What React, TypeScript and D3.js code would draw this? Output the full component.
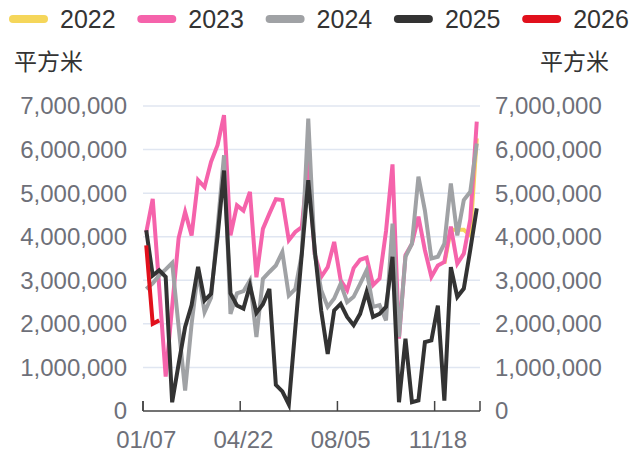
import React from 'react';
import * as d3 from 'd3';

const width = 643;
const height = 454;
const margin = { top: 106, right: 163, bottom: 43, left: 143 };

// weekly categories (2025 calendar)
const weeks = [
  '01/07', '01/14', '01/21', '01/28', '02/04', '02/11', '02/18', '02/25', '03/04', '03/11',
  '03/18', '03/25', '04/01', '04/08', '04/15', '04/22', '04/29', '05/06', '05/13', '05/20',
  '05/27', '06/03', '06/10', '06/17', '06/24', '07/01', '07/08', '07/15', '07/22', '07/29',
  '08/05', '08/12', '08/19', '08/26', '09/02', '09/09', '09/16', '09/23', '09/30', '10/07',
  '10/14', '10/21', '10/28', '11/04', '11/11', '11/18', '11/25', '12/02', '12/09', '12/16',
  '12/23', '12/30'
];
const tickLabels = ['01/07', '04/22', '08/05', '11/18'];
const yTicks = [0, 1000000, 2000000, 3000000, 4000000, 5000000, 6000000, 7000000];

const years = ['2022', '2023', '2024', '2025', '2026'];
const colors = ['#f5d65a', '#f563ab', '#a0a2a5', '#333333', '#e1101c'];

const v2022 = [
  ...Array(46).fill(null),
  3380000, 4160000, 4160000, 4160000, 4030000, 6260000
];
const v2023 = [
  4100000, 4870000, 2840000, 790000, 2400000, 3970000, 4570000, 4030000, 5300000, 5140000,
  5720000, 6100000, 6790000, 4030000, 4720000, 4600000, 5030000, 3070000, 4180000, 4530000,
  4860000, 4840000, 3920000, 4110000, 4220000, 5750000, 3600000, 3080000, 3300000, 3880000,
  3000000, 2770000, 3280000, 3470000, 3520000, 2890000, 3040000, 4130000, 5660000, 1660000,
  3580000, 3840000, 4460000, 3690000, 3080000, 3340000, 3420000, 4230000, 3380000, 3610000,
  4400000, 6640000
];
const v2024 = [
  2800000, 2930000, 3110000, 3250000, 3400000, 1930000, 470000, 2000000, 3200000, 2270000,
  2600000, 4200000, 5870000, 2230000, 2700000, 2750000, 3000000, 1700000, 3030000, 3190000,
  3340000, 3650000, 2650000, 2800000, 3600000, 6710000, 3600000, 2770000, 2390000, 2580000,
  2920000, 2500000, 2620000, 2920000, 3230000, 2390000, 2430000, 2080000, 4300000, 1700000,
  3540000, 3840000, 5380000, 4600000, 3500000, 3540000, 3840000, 5220000, 4030000, 4840000,
  5030000, 6140000
];
const v2025 = [
  4150000, 3110000, 3230000, 3080000, 200000, 1080000, 1930000, 2430000, 3310000, 2540000,
  2690000, 4000000, 5520000, 2700000, 2420000, 2350000, 2880000, 2250000, 2450000, 2800000,
  600000, 450000, 150000, 1900000, 3600000, 5300000, 3700000, 2300000, 1310000, 2310000,
  2460000, 2160000, 1970000, 2230000, 2730000, 2160000, 2230000, 2390000, 3540000, 200000,
  1660000, 200000, 240000, 1580000, 1620000, 2420000, 240000, 3300000, 2620000, 2810000,
  3700000, 4650000
];
const v2026 = [3800000, 2000000, 2080000];

const seriesValues = [v2022, v2023, v2024, v2025, v2026];

const font = '"Liberation Sans", Arial, Helvetica, sans-serif';
const cjk = '"Noto Sans CJK SC", sans-serif';

export default function App() {
  const x = d3
    .scaleBand<string>()
    .domain(weeks)
    .range([margin.left, width - margin.right])
    .padding(0);
  const y = d3
    .scaleLinear()
    .domain([0, 7000000])
    .range([height - margin.bottom, margin.top]);

  const line = d3
    .line<number | null>()
    .defined(d => d != null)
    .x((d, i) => (x(weeks[i]) as number) + x.bandwidth() / 2)
    .y(d => y(d as number));

  const fmt = d3.format(',');
  const x0 = margin.left;
  const x1 = width - margin.right;
  const yBase = y(0);

  return (
    <div style={{ position: 'fixed', left: 0, top: 0 }}>
      <svg width={width} height={height} style={{ display: 'block', background: '#fff' }}>
        {/* legend */}
        {years.map((yr, i) => (
          <g key={yr} transform={`translate(${9 + i * 128.3}, 19)`}>
            <rect x={0} y={-4} width={39} height={8} rx={4} fill={colors[i]} />
            <text
              x={51}
              y={0}
              dy="0.35em"
              fontSize={25}
              fontFamily={font}
              fill="#333"
            >
              {yr}
            </text>
          </g>
        ))}

        {/* unit labels */}
        <text x={14} y={62} dy="0.35em" fontSize={23} fontFamily={cjk} fill="#333">
          平方米
        </text>
        <text x={540} y={62} dy="0.35em" fontSize={23} fontFamily={cjk} fill="#333">
          平方米
        </text>

        {/* grid + y labels */}
        {yTicks.map(t => (
          <g key={t}>
            {t > 0 && (
              <line x1={x0} x2={x1} y1={y(t)} y2={y(t)} stroke="#e0e6f1" strokeWidth={1.5} />
            )}
            <text
              x={127}
              y={y(t)}
              dy="0.35em"
              textAnchor="end"
              fontSize={24}
              fontFamily={font}
              fill="#6e7079"
            >
              {fmt(t)}
            </text>
            <text
              x={495}
              y={y(t)}
              dy="0.35em"
              textAnchor="start"
              fontSize={24}
              fontFamily={font}
              fill="#6e7079"
            >
              {fmt(t)}
            </text>
          </g>
        ))}

        {/* series */}
        {seriesValues.map((vals, i) => (
          <path
            key={years[i]}
            d={line(vals) || ''}
            fill="none"
            stroke={colors[i]}
            strokeWidth={4}
            strokeLinejoin="miter"
            strokeMiterlimit={4}
          />
        ))}

        {/* x axis */}
        <line x1={x0} x2={x1} y1={yBase} y2={yBase} stroke="#444" strokeWidth={1.5} />
        {[x0, ...tickLabels.map(l => x(l) as number), x1].map((tx, i) => (
          <line key={i} x1={tx} x2={tx} y1={yBase} y2={yBase - 10} stroke="#444" strokeWidth={1.5} />
        ))}
        {tickLabels.map(l => (
          <text
            key={l}
            x={(x(l) as number) + x.bandwidth() / 2}
            y={yBase + 29}
            dy="0.35em"
            textAnchor="middle"
            fontSize={24}
            fontFamily={font}
            fill="#6e7079"
          >
            {l}
          </text>
        ))}
      </svg>
    </div>
  );
}
